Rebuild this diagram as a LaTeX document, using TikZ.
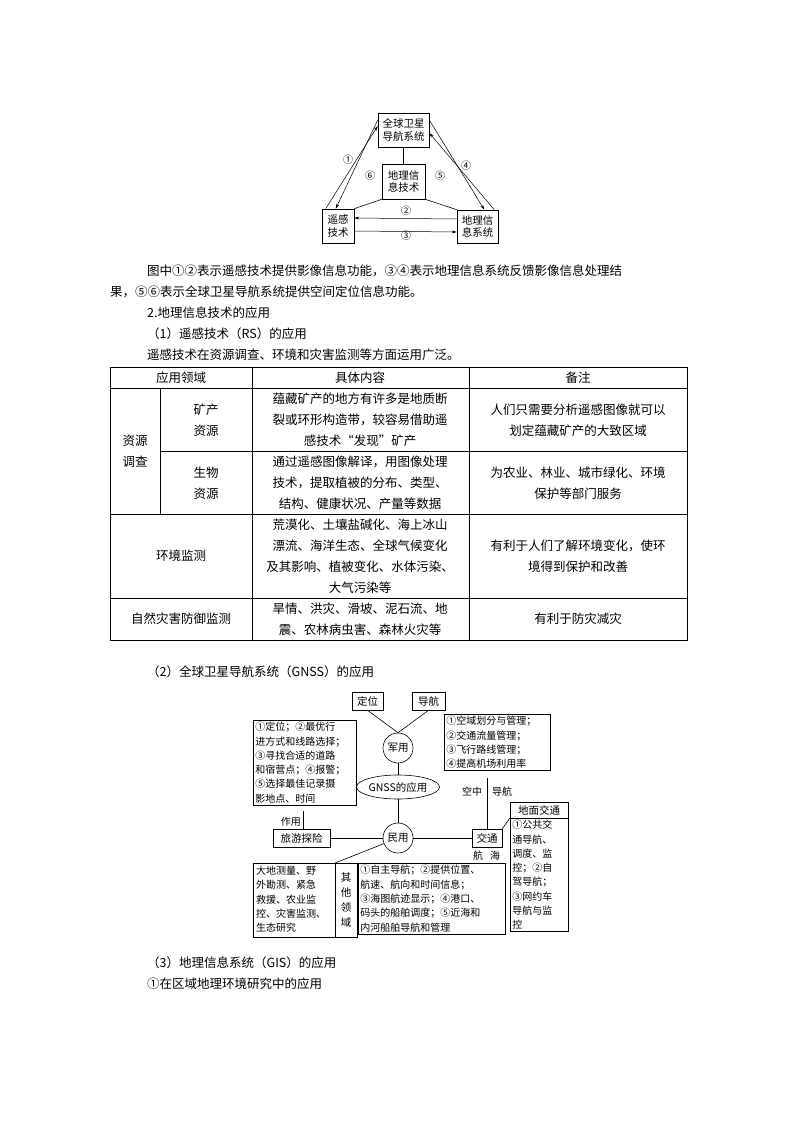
\documentclass[tikz,border=0pt]{standalone}
\usepackage{fontspec}
\setmainfont{Noto Sans CJK SC}
\usetikzlibrary{arrows.meta,shapes.geometric}
\begin{document}
\begin{tikzpicture}[x=1pt,y=-1pt,
  bx/.style={draw,line width=0.6pt,inner sep=1.5pt,font=\fontsize{10.5}{12.5}\selectfont,align=center},
  gb/.style={draw,line width=0.6pt,inner sep=2pt,font=\fontsize{10}{14.3}\selectfont,align=left,anchor=north west,text width=#1},
  gl/.style={draw,line width=0.6pt,inner sep=1pt,font=\fontsize{10.5}{12}\selectfont,minimum height=18pt},
  tx/.style={anchor=west,font=\fontsize{12.5}{14}\selectfont,inner sep=0},
  cell/.style={font=\fontsize{12.5}{21}\selectfont,align=center,inner sep=0},
  ln/.style={line width=0.6pt},
  ar/.style={line width=0.5pt,-{Stealth[length=5pt,width=3pt]}},
  lb/.style={font=\fontsize{10}{11}\selectfont,inner sep=0}]
\useasboundingbox (0,0) rectangle (794,1123);
\fill[white] (0,0) rectangle (794,1123);
% top diagram
\node[bx,minimum width=51pt,minimum height=34pt] (gn) at (403.5,130) {全球卫星\\导航系统};
\node[bx,minimum width=43pt,minimum height=35pt] (gt) at (403.5,181.5) {地理信\\息技术};
\node[bx,minimum width=32pt,minimum height=34pt] (rs) at (338,226) {遥感\\技术};
\node[bx,minimum width=41pt,minimum height=33pt] (gi) at (477.5,226.5) {地理信\\息系统};
\draw[ln] (gn.south) -- (gt.north);
\draw[ln] (gt.south west) -- (rs.north east);
\draw[ln] (gt.south east) -- (gi.north west);
\draw[ar] ([xshift=4pt]rs.north west) -- ([yshift=4pt]gn.west);
\draw[ar] ([yshift=10pt]gn.west) -- ([xshift=14pt]rs.north west);
\draw[ar] ([xshift=-4pt]gi.north east) -- ([yshift=-3pt]gn.east);
\draw[ar] ([yshift=10pt]gn.east) -- ([xshift=-14pt]gi.north east);
\draw[ar] ([yshift=-5pt]rs.east) -- ([yshift=-5.5pt]gi.west);
\draw[ar] ([yshift=7.5pt]gi.west) -- ([yshift=8pt]rs.west-|rs.east);
\node[lb] (c1) at (348,160) {①};
\node[lb] (c6) at (370,176) {⑥};
\node[lb] (c5) at (440,176) {⑤};
\node[lb] (c4) at (466,166) {④};
\node[lb] (c2) at (406,211) {②};
\node[lb] (c3) at (406,236) {③};
% text
\node[tx] (p1) at (147,271) {图中①②表示遥感技术提供影像信息功能，③④表示地理信息系统反馈影像信息处理结};
\node[tx] (p2) at (110,292) {果，⑤⑥表示全球卫星导航系统提供空间定位信息功能。};
\node[tx] (p3) at (147,313) {2.地理信息技术的应用};
\node[tx] (p4) at (147,334) {（1）遥感技术（RS）的应用};
\node[tx] (p5) at (147,355) {遥感技术在资源调查、环境和灾害监测等方面运用广泛。};
% table
\draw[ln] (110,367) rectangle (687,640);
\foreach \y in {388,514,598} \draw[ln] (110,\y) -- (687,\y);
\draw[ln] (160,451) -- (687,451);
\draw[ln] (160,388) -- (160,514);
\draw[ln] (252,367) -- (252,640);
\draw[ln] (469,367) -- (469,640);
\node[cell] (h1) at (181,378) {应用领域};
\node[cell] (h2) at (360,378) {具体内容};
\node[cell] (h3) at (578,378) {备注};
\node[cell] (r0) at (135,451) {资源\\调查};
\node[cell] (r1a) at (206,420) {矿产\\资源};
\node[cell] (r1b) at (360,420) {蕴藏矿产的地方有许多是地质断\\裂或环形构造带，较容易借助遥\\感技术“发现”矿产};
\node[cell] (r1c) at (578,420) {人们只需要分析遥感图像就可以\\划定蕴藏矿产的大致区域};
\node[cell] (r2a) at (206,483) {生物\\资源};
\node[cell] (r2b) at (360,483) {通过遥感图像解译，用图像处理\\技术，提取植被的分布、类型、\\结构、健康状况、产量等数据};
\node[cell] (r2c) at (578,483) {为农业、林业、城市绿化、环境\\保护等部门服务};
\node[cell] (r3a) at (181,556) {环境监测};
\node[cell] (r3b) at (360,556) {荒漠化、土壤盐碱化、海上冰山\\漂流、海洋生态、全球气候变化\\及其影响、植被变化、水体污染、\\大气污染等};
\node[cell] (r3c) at (578,556) {有利于人们了解环境变化，使环\\境得到保护和改善};
\node[cell] (r4a) at (181,619) {自然灾害防御监测};
\node[cell] (r4b) at (360,619) {旱情、洪灾、滑坡、泥石流、地\\震、农林病虫害、森林火灾等};
\node[cell] (r4c) at (578,619) {有利于防灾减灾};
\node[tx] (p6) at (147,672) {（2）全球卫星导航系统（GNSS）的应用};
% GNSS diagram
\node[gl,minimum width=31pt] (dw) at (367.5,701) {定位};
\node[gl,minimum width=33pt] (dh) at (428.5,701) {导航};
\node[draw,circle,ln,minimum size=30pt,inner sep=0,font=\fontsize{10.5}{12}\selectfont] (jy) at (398,748) {军用};
\node[draw,ellipse,ln,minimum width=66pt,minimum height=24pt,inner sep=0,font=\fontsize{10.5}{12}\selectfont] (gs) at (398,787) {GNSS的应用};
\node[draw,circle,ln,minimum size=30pt,inner sep=0,font=\fontsize{10.5}{12}\selectfont] (my) at (398,838) {民用};
\draw[ln] (dw.south) -- (jy.north);
\draw[ln] (dh.south) -- (jy.north);
\draw[ln] (jy) -- (gs);
\draw[ln] (gs) -- (my);
\node[gb=99pt] (lb1) at (253,720) {①定位；②最优行\\进方式和线路选择；\\③寻找合适的道路\\和宿营点；④报警；\\⑤选择最佳记录摄\\影地点、时间};
\node[gl,minimum width=57pt] (ly) at (301.5,838) {旅游探险};
\draw[ln] (303,811) -- (303,829);
\node[lb,anchor=east] (zy) at (301,822) {作用};
\draw[ln] (ly) -- (my);
\node[gb=102pt] (rb1) at (444,714) {①空域划分与管理；\\②交通流量管理；\\③飞行路线管理；\\④提高机场利用率};
\node[gl,minimum width=30pt] (jt) at (487,838) {交通};
\draw[ln] (my) -- (jt);
\draw[ln] (487,778) -- (jt.north);
\node[lb] (kz) at (472,792) {空中};
\node[lb] (dh2) at (502,792) {导航};
\node[lb] (hang) at (478,856) {航};
\node[lb] (hai) at (495,856) {海};
\node[draw,ln,minimum width=58pt,minimum height=16pt,inner sep=0,font=\fontsize{10.5}{12}\selectfont] (dm) at (539,810) {地面交通};
\node[gb=54pt] (db) at (510,818) {①公共交\\通导航、\\调度、监\\控；②自\\驾导航；\\③网约车\\导航与监\\控};
\draw[ln] (jt.north east) -- (dm.south west);
\node[draw,ln,minimum width=104pt,minimum height=74pt,anchor=north west,inner sep=0] (bl) at (253,863) {};
\draw[ln] (335,863) -- (335,937);
\node[anchor=north west,inner sep=0,font=\fontsize{10}{14.3}\selectfont,align=left] (blt) at (256,866) {大地测量、野\\外勘测、紧急\\救援、农业监\\控、灾害监测、\\生态研究};
\node[inner sep=0,font=\fontsize{10.5}{15}\selectfont,align=center] (qt) at (346,900) {其\\他\\领\\域};
\draw[ln] (my) -- (335,863);
\node[gb=143pt] (bm) at (358,863) {①自主导航；②提供位置、\\航速、航向和时间信息；\\③海图航迹显示；④港口、\\码头的船舶调度；⑤近海和\\内河船舶导航和管理};
\node[tx] (p7) at (147,963) {（3）地理信息系统（GIS）的应用};
\node[tx] (p8) at (147,984) {①在区域地理环境研究中的应用};
\end{tikzpicture}
\end{document}
